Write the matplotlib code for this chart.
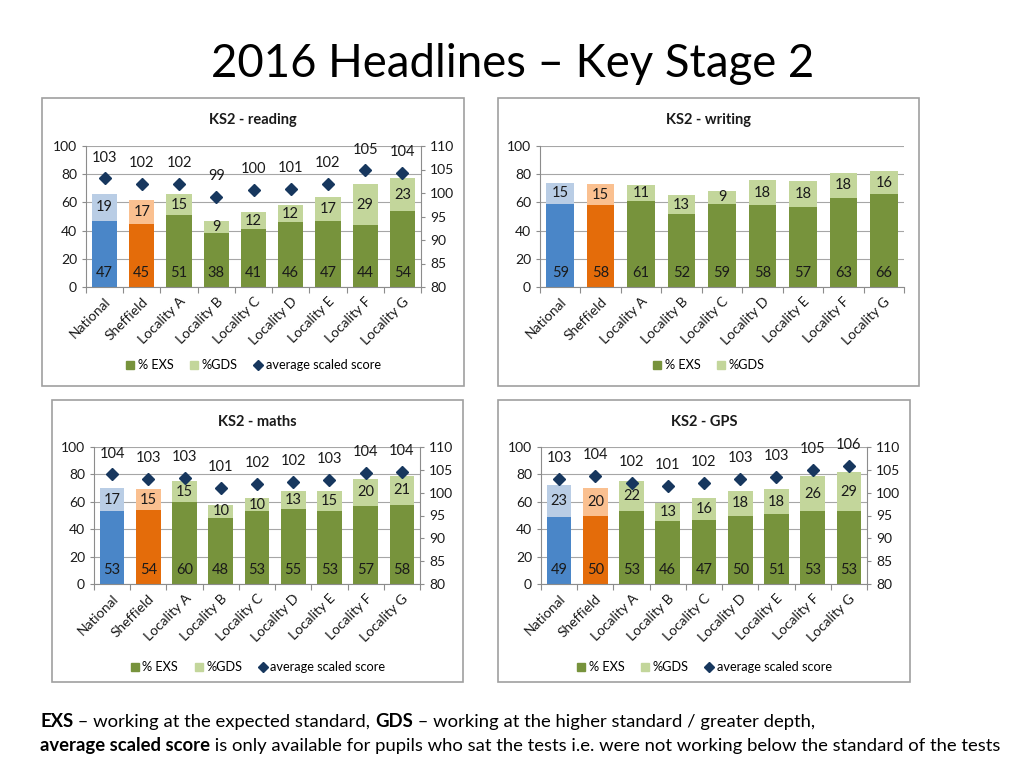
import matplotlib
matplotlib.use('Agg')
import matplotlib.pyplot as plt
from matplotlib.patches import Rectangle
from matplotlib.lines import Line2D
import numpy as np

plt.rcParams['font.family'] = ['Lato', 'DejaVu Sans']

categories = ['National', 'Sheffield', 'Locality A', 'Locality B', 'Locality C',
              'Locality D', 'Locality E', 'Locality F', 'Locality G']

reading_exs = [47, 45, 51, 38, 41, 46, 47, 44, 54]
reading_gds = [19, 17, 15, 9, 12, 12, 17, 29, 23]
reading_score = [103.1, 102.0, 102.0, 99.1, 100.6, 100.8, 102.0, 104.8, 104.3]
reading_score_labels = [103, 102, 102, 99, 100, 101, 102, 105, 104]

writing_exs = [59, 58, 61, 52, 59, 58, 57, 63, 66]
writing_gds = [15, 15, 11, 13, 9, 18, 18, 18, 16]

maths_exs = [53, 54, 60, 48, 53, 55, 53, 57, 58]
maths_gds = [17, 15, 15, 10, 10, 13, 15, 20, 21]
maths_score = [104.0, 103.0, 103.2, 101.1, 101.9, 102.4, 102.8, 104.4, 104.5]
maths_score_labels = [104, 103, 103, 101, 102, 102, 103, 104, 104]

gps_exs = [49, 50, 53, 46, 47, 50, 51, 53, 53]
gps_gds = [23, 20, 22, 13, 16, 18, 18, 26, 29]
gps_score = [103.1, 103.7, 102.1, 101.5, 102.1, 103.1, 103.5, 105.0, 105.8]
gps_score_labels = [103, 104, 102, 101, 102, 103, 103, 105, 106]

EXS_COLORS = ['#4A86C8', '#E46C0A'] + ['#77933C'] * 7
GDS_COLORS = ['#B9CDE5', '#FAC090'] + ['#C3D69B'] * 7
NAVY = '#17375E'
GRID = '#A6A6A6'
TXT = '#1a1a1a'

W, H = 1024, 768
fig = plt.figure(figsize=(W / 100, H / 100), dpi=100)
fig.patch.set_facecolor('white')


def fx(px):
    return px / W


def fy(py):
    return 1 - py / H


def draw_panel(box, plot, title, exs, gds, score=None, score_labels=None):
    x0, y0, x1, y1 = box
    fig.patches.append(Rectangle((fx(x0), fy(y1)), fx(x1 - x0), (y1 - y0) / H,
                                 transform=fig.transFigure, fill=False,
                                 edgecolor='#A0A0A0', linewidth=1.2))
    fig.text(fx((x0 + x1) / 2), fy(y0 + 22), title, ha='center', va='center',
             fontsize=10.5, fontweight='bold', color=TXT)
    l, t, r, b = plot
    ax = fig.add_axes([fx(l), fy(b), fx(r - l), (b - t) / H])
    x = np.arange(len(categories))
    ax.bar(x, exs, width=0.68, color=EXS_COLORS, zorder=2)
    ax.bar(x, gds, bottom=exs, width=0.68, color=GDS_COLORS, zorder=2)
    ax.set_xlim(-0.5, len(categories) - 0.5)
    ax.set_ylim(0, 100)
    ax.set_yticks(range(0, 101, 20))
    ax.grid(axis='y', color=GRID, linewidth=0.8, zorder=0)
    ax.set_axisbelow(True)
    for s in ['top', 'right']:
        ax.spines[s].set_visible(False)
    for s in ['left', 'bottom']:
        ax.spines[s].set_color('#8C8C8C')
        ax.spines[s].set_linewidth(0.8)
    ax.tick_params(axis='y', colors='#8C8C8C', labelcolor=TXT, labelsize=10,
                   length=3, width=0.8)
    ax.set_xticks(x)
    ax.set_xticklabels(categories, rotation=45, ha='right',
                       rotation_mode='anchor', fontsize=10, color=TXT)
    ax.tick_params(axis='x', which='major', length=0, pad=6)
    ax.set_xticks(np.arange(-0.5, len(categories), 1), minor=True)
    ax.tick_params(axis='x', which='minor', length=4, color='#8C8C8C', width=0.8)
    for i in range(len(categories)):
        ax.text(x[i], 10, str(exs[i]), ha='center', va='center', fontsize=10.5,
                color=TXT, zorder=3)
        ax.text(x[i], exs[i] + gds[i] / 2, str(gds[i]), ha='center', va='center',
                fontsize=10.5, color=TXT, zorder=3)
    handles = [Line2D([], [], marker='s', ls='', color=EXS_COLORS[2], ms=6),
               Line2D([], [], marker='s', ls='', color=GDS_COLORS[2], ms=6)]
    names = ['% EXS', '%GDS']
    if score is not None:
        ax2 = ax.twinx()
        ax2.set_ylim(80, 110)
        ax2.set_yticks(range(80, 111, 5))
        for s in ['top', 'left', 'bottom']:
            ax2.spines[s].set_visible(False)
        ax2.spines['right'].set_color('#8C8C8C')
        ax2.spines['right'].set_linewidth(0.8)
        ax2.tick_params(axis='y', colors='#8C8C8C', labelcolor=TXT, labelsize=10,
                        length=3, width=0.8)
        ax2.plot(x, score, 'D', color=NAVY, ms=6, zorder=4)
        for i in range(len(categories)):
            ax2.annotate(str(score_labels[i]), (x[i], score[i]), xytext=(0, 10),
                         textcoords='offset points', ha='center', va='bottom',
                         fontsize=10.5, color=TXT)
        handles.append(Line2D([], [], marker='D', ls='', color=NAVY, ms=5))
        names.append('average scaled score')
    leg_y = y0 + 267
    fig.legend(handles, names, loc='center', bbox_to_anchor=(fx((x0 + x1) / 2), fy(leg_y)),
               ncol=len(names), frameon=False, fontsize=9.2, handlelength=0.8,
               handletextpad=0.2, columnspacing=1.2)


draw_panel((42, 98, 464, 386), (86, 146, 421, 287), 'KS2 - reading',
           reading_exs, reading_gds, reading_score, reading_score_labels)
draw_panel((498, 98, 919, 386), (540, 146, 904, 287), 'KS2 - writing',
           writing_exs, writing_gds)
draw_panel((52, 400, 463, 682), (94, 447, 420, 584), 'KS2 - maths',
           maths_exs, maths_gds, maths_score, maths_score_labels)
draw_panel((498, 400, 910, 682), (541, 447, 867, 584), 'KS2 - GPS',
           gps_exs, gps_gds, gps_score, gps_score_labels)

fig.text(fx(513), fy(77), '2016 Headlines – Key Stage 2', ha='center',
         va='baseline', fontsize=32.8, color='black')

renderer = fig.canvas.get_renderer()


def rich_line(xpx, ypx, parts, size):
    cur = xpx
    for s, bold in parts:
        t = fig.text(fx(cur), fy(ypx), s, fontsize=size, va='baseline', ha='left',
                     fontweight='bold' if bold else 'normal', color='black')
        bb = t.get_window_extent(renderer=renderer)
        cur += bb.width


rich_line(40, 727, [('EXS', True), (' – working at the expected standard, ', False),
                    ('GDS', True),
                    (' – working at the higher standard / greater depth,', False)], 13.3)
rich_line(40, 751, [('average scaled score', True),
                    (' is only available for pupils who sat the tests i.e. were not '
                     'working below the standard of the tests', False)], 13.3)

fig.savefig('out.png', dpi=100)
